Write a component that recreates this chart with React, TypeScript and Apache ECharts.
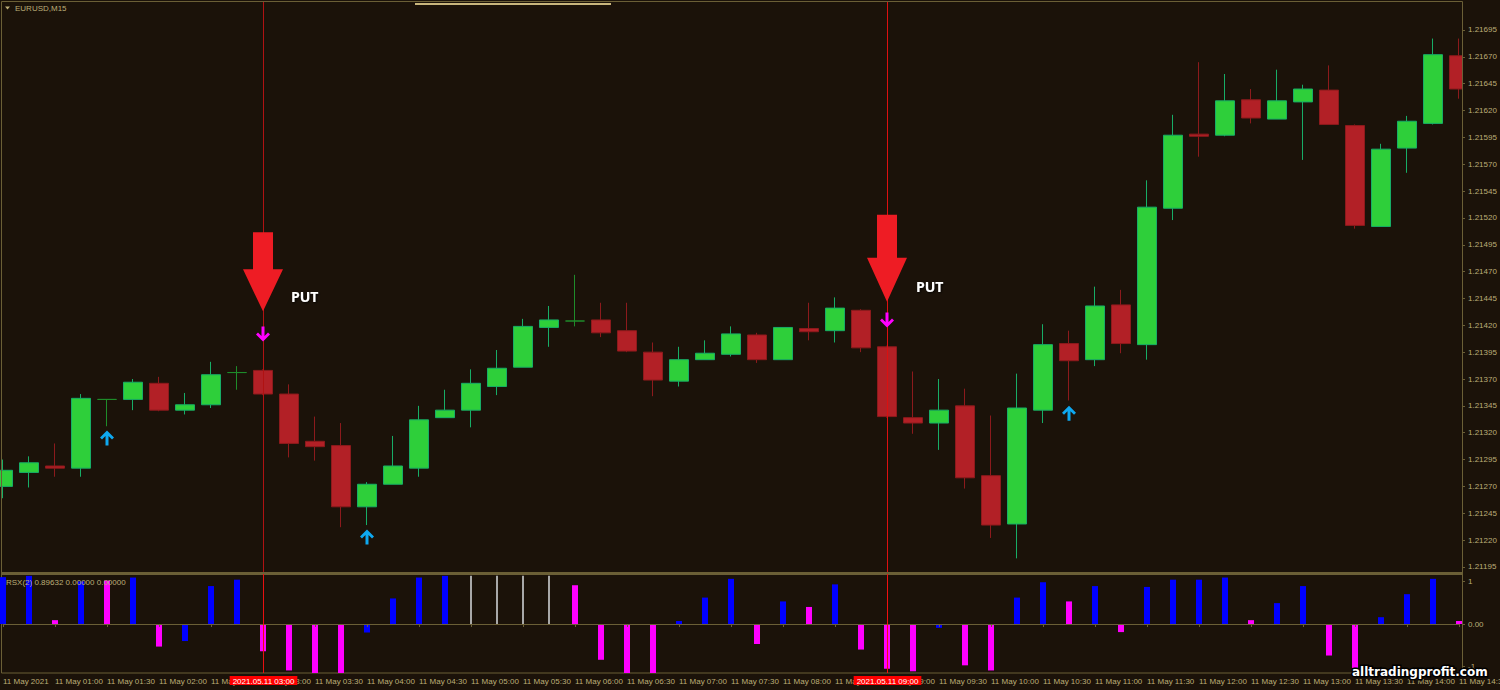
import React, { useEffect, useRef } from "react";
import * as echarts from "echarts";

// ---- data ----
const times = [
  "00:30", "00:45", "01:00", "01:15", "01:30", "01:45", "02:00", "02:15", "02:30", "02:45",
  "03:00", "03:15", "03:30", "03:45", "04:00", "04:15", "04:30", "04:45", "05:00", "05:15",
  "05:30", "05:45", "06:00", "06:15", "06:30", "06:45", "07:00", "07:15", "07:30", "07:45",
  "08:00", "08:15", "08:30", "08:45", "09:00", "09:15", "09:30", "09:45", "10:00", "10:15",
  "10:30", "10:45", "11:00", "11:15", "11:30", "11:45", "12:00", "12:15", "12:30", "12:45",
  "13:00", "13:15", "13:30", "13:45", "14:00", "14:15", "14:30",
];

const opens = [
  1.2127, 1.21283, 1.21289, 1.21287, 1.21351, 1.21351, 1.21366, 1.21341, 1.21346, 1.21376,
  1.21378, 1.21356, 1.21312, 1.21308, 1.21251, 1.21272, 1.21287, 1.21334, 1.21341, 1.21363,
  1.21381, 1.21418, 1.21424, 1.21425, 1.21415, 1.21395, 1.21368, 1.21388, 1.21393, 1.21411,
  1.21388, 1.21417, 1.21415, 1.21434, 1.214, 1.21334, 1.21329, 1.21345, 1.2128, 1.21235,
  1.21341, 1.21403, 1.21388, 1.21439, 1.21402, 1.21529, 1.21598, 1.21597, 1.2163, 1.21612,
  1.21628, 1.21639, 1.21606, 1.21512, 1.21585, 1.21608, 1.21671,
];
const closes = [
  1.21285, 1.21292, 1.21287, 1.21352, 1.21351, 1.21367, 1.21341, 1.21346, 1.21374, 1.21376,
  1.21356, 1.2131, 1.21307, 1.21251, 1.21272, 1.21289, 1.21332, 1.21341, 1.21366, 1.2138,
  1.21419, 1.21425, 1.21424, 1.21413, 1.21396, 1.21369, 1.21388, 1.21394, 1.21412, 1.21388,
  1.21418, 1.21414, 1.21436, 1.21399, 1.21335, 1.21329, 1.21341, 1.21278, 1.21234, 1.21343,
  1.21402, 1.21387, 1.21438, 1.21403, 1.2153, 1.21597, 1.21596, 1.21629, 1.21613, 1.21629,
  1.2164, 1.21607, 1.21513, 1.21584, 1.2161, 1.21672, 1.2164,
];
const highs = [
  1.21295, 1.21298, 1.2131, 1.21356, 1.21351, 1.2137, 1.21372, 1.21357, 1.21386, 1.21382,
  1.21379, 1.21365, 1.21335, 1.21329, 1.21274, 1.21317, 1.21345, 1.2136, 1.21379, 1.21397,
  1.21426, 1.21438, 1.21467, 1.21441, 1.21441, 1.21404, 1.214, 1.21406, 1.21419, 1.21413,
  1.21418, 1.21441, 1.21446, 1.21435, 1.21401, 1.21377, 1.2137, 1.21361, 1.21336, 1.21375,
  1.21421, 1.21415, 1.21456, 1.21453, 1.21555, 1.21616, 1.21665, 1.21654, 1.2164, 1.21658,
  1.21644, 1.21662, 1.21607, 1.21589, 1.21615, 1.21687, 1.21687,
];
const lows = [
  1.21259, 1.21269, 1.21279, 1.21279, 1.21326, 1.21341, 1.2134, 1.21337, 1.21343, 1.2136,
  1.21355, 1.21297, 1.21294, 1.21232, 1.21234, 1.21272, 1.21279, 1.21334, 1.21325, 1.21355,
  1.21381, 1.214, 1.21419, 1.21409, 1.21395, 1.21354, 1.21363, 1.21388, 1.21391, 1.21385,
  1.21388, 1.21406, 1.21404, 1.21395, 1.21334, 1.21319, 1.21304, 1.21268, 1.21222, 1.21203,
  1.21329, 1.2135, 1.21382, 1.21394, 1.21388, 1.21518, 1.21577, 1.21596, 1.21608, 1.21612,
  1.21574, 1.21607, 1.2151, 1.21512, 1.21562, 1.21607, 1.21631,
];

const priceTicks = [
  1.21195, 1.2122, 1.21245, 1.2127, 1.21295, 1.2132, 1.21345, 1.2137, 1.21395, 1.2142,
  1.21445, 1.2147, 1.21495, 1.2152, 1.21545, 1.2157, 1.21595, 1.2162, 1.21645, 1.2167, 1.21695,
];

// RSX histogram: value and colour kind (b = blue, m = magenta, g = grey)
const rsxValues = [
  1.1, 1.13, 0.09, 1.0, 1.02, 1.09, -0.53, -0.4, 0.89, 1.04,
  -0.64, -1.09, -1.15, -1.15, -0.2, 0.6, 1.09, 1.13, 1.13, 1.13,
  1.13, 1.13, 0.91, -0.84, -1.15, -1.15, 0.07, 0.62, 1.06, -0.47,
  0.53, 0.4, 0.93, -0.6, -1.05, -1.11, -0.09, -0.97, -1.09, 0.62,
  0.98, 0.53, 0.89, -0.19, 0.87, 1.04, 1.04, 1.09, 0.09, 0.49,
  0.89, -0.74, -1.03, 0.16, 0.7, 1.06, 0.07,
];
const rsxKind = [
  "b", "b", "m", "b", "m", "b", "m", "b", "b", "b",
  "m", "m", "m", "m", "b", "b", "b", "b", "g", "g",
  "g", "g", "m", "m", "m", "m", "b", "b", "b", "m",
  "b", "m", "b", "m", "m", "m", "b", "m", "m", "b",
  "b", "m", "b", "m", "b", "b", "b", "b", "m", "b",
  "b", "m", "m", "b", "b", "b", "m",
];
const rsxTicks = [-1, 0, 1];

// signals
const putIndex = [10, 34];
const putPrice = [1.21433, 1.21442];
const downIndex = [10, 34];
const downPrice = [1.21412, 1.21425];
const upIndex = [4, 14, 41];
const upPrice = [1.21315, 1.21223, 1.21338];
const vlineIndex = [10, 34];
const vlineLabels = ["2021.05.11 03:00", "2021.05.11 09:00"];

// ---- styles ----
const BG = "#1b1209";
const OLIVE = "#6b5f36";
const TXT = "#bcae78";
const FONT = "'Liberation Sans', Arial, sans-serif";
const KIND_COLOR: Record<string, string> = { b: "#0000ff", m: "#ff00ff", g: "#a8a8a8" };
const KIND_WIDTH: Record<string, number> = { b: 6, m: 6, g: 2 };
const VLINE_MAIN = ["#b01212", "#dc1010"];
const VLINE_SUB = ["#e81010", "#f01010"];

export default function App() {
  const ref = useRef<HTMLDivElement>(null);

  useEffect(() => {
    const chart = echarts.init(ref.current!, null, { renderer: "svg" });

    const candleData = opens.map((o, i) => [o, closes[i], lows[i], highs[i]]);
    const rsxData = rsxValues.map((v, i) => [i, v]);
    const vlineData = vlineIndex.map((idx, k) => [idx, 0, k]);

    const bigArrow1 = "path://M10,0L30,0L30,37L40,37L20,79L0,37L10,37Z";
    const bigArrow2 = "path://M10,0L30,0L30,43L40,43L20,87L0,43L10,43Z";
    const upArrow = "path://M7,0L14,7L12,9L8.5,5.5L8.5,15L5.5,15L5.5,5.5L2,9L0,7Z";
    const downArrow = "path://M5.5,0L8.5,0L8.5,9.5L12,6L14,8L7,15L0,8L2,6L5.5,9.5Z";

    const option: any = {
      animation: false,
      backgroundColor: BG,
      textStyle: { fontFamily: FONT },
      grid: [
        { left: 3, right: 41, top: 3, height: 569, outerBoundsMode: "none", containLabel: false },
        { left: 3, right: 41, top: 575, height: 98, outerBoundsMode: "none", containLabel: false },
      ],
      xAxis: [
        {
          type: "category",
          gridIndex: 0,
          data: times,
          boundaryGap: false,
          axisLine: { show: false },
          axisTick: { show: false },
          axisLabel: { show: false },
          splitLine: { show: false },
        },
        {
          type: "category",
          gridIndex: 1,
          data: times,
          boundaryGap: false,
          z: 20,
          axisLine: { show: true, lineStyle: { color: OLIVE, width: 1 } },
          axisTick: { show: true, interval: 1, length: 3, lineStyle: { color: OLIVE } },
          axisLabel: {
            interval: 1,
            align: "left",
            margin: 4,
            color: TXT,
            fontSize: 8,
            fontFamily: FONT,
            hideOverlap: false,
            formatter: (v: string, i: number) => (i === 0 ? "11 May 2021" : "11 May " + v),
          },
          splitLine: { show: false },
        },
      ],
      yAxis: [
        {
          type: "value",
          gridIndex: 0,
          position: "right",
          offset: 3,
          z: 20,
          min: 1.211903,
          max: 1.217201,
          axisLine: { show: true, lineStyle: { color: OLIVE, width: 1 } },
          axisTick: { show: true, length: 3, customValues: priceTicks, lineStyle: { color: OLIVE } },
          axisLabel: {
            customValues: priceTicks,
            margin: 6,
            color: TXT,
            fontSize: 8,
            fontFamily: FONT,
            formatter: (v: number) => v.toFixed(5),
          },
          splitLine: { show: false },
        },
        {
          type: "value",
          gridIndex: 1,
          position: "right",
          offset: 3,
          z: 20,
          min: -1.15,
          max: 1.15,
          axisLine: { show: true, lineStyle: { color: OLIVE, width: 1 } },
          axisTick: { show: true, length: 3, customValues: rsxTicks, lineStyle: { color: OLIVE } },
          axisLabel: {
            customValues: rsxTicks,
            margin: 6,
            color: TXT,
            fontSize: 8,
            fontFamily: FONT,
            formatter: (v: number) => (v === 0 ? "0.00" : String(v)),
          },
          splitLine: { show: false },
        },
      ],
      series: [
        {
          type: "candlestick",
          xAxisIndex: 0,
          yAxisIndex: 0,
          barWidth: 20,
          data: candleData,
          itemStyle: {
            color: "#2ecf3a",
            color0: "#b22026",
            borderColor: "#17ad66",
            borderColor0: "#8c1a1c",
            borderColorDoji: "#1f8c2a",
            borderWidth: 1,
          },
          z: 2,
        },
        {
          // vertical lines, main panel
          type: "custom",
          xAxisIndex: 0,
          yAxisIndex: 0,
          data: vlineData,
          encode: { x: 0 },
          clip: false,
          silent: true,
          renderItem: (params: any, api: any) => {
            const cs = params.coordSys;
            const x = Math.round(api.coord([api.value(0), 1.214])[0]) + 0.5;
            const k = api.value(2);
            return {
              type: "line",
              shape: { x1: x, y1: cs.y - 2, x2: x, y2: cs.y + cs.height + 3 },
              style: { stroke: VLINE_MAIN[k], lineWidth: 1 },
            };
          },
          z: 3,
        },
        {
          type: "scatter",
          xAxisIndex: 0,
          yAxisIndex: 0,
          data: putIndex.map((idx, k) => ({
            value: [idx, putPrice[k]],
            symbol: k === 0 ? bigArrow1 : bigArrow2,
            symbolSize: k === 0 ? [40, 79] : [40, 87],
            label: {
              show: true,
              position: "right",
              formatter: "PUT",
              offset: k === 0 ? [3, 25] : [4, 28],
            },
          })),
          symbolOffset: [0, "-50%"],
          itemStyle: { color: "#ee1c24", opacity: 1 },
          label: {
            color: "#ffffff",
            fontSize: 14,
            fontWeight: "bold",
            fontFamily: "'Open Sans', 'DejaVu Sans', sans-serif",
            textShadowColor: "rgba(0,0,0,0.8)",
            textShadowBlur: 2,
            textShadowOffsetX: 1,
            textShadowOffsetY: 1,
          },
          z: 5,
        },
        {
          type: "scatter",
          xAxisIndex: 0,
          yAxisIndex: 0,
          symbol: downArrow,
          symbolSize: [14, 15],
          itemStyle: { color: "#ff00ff", opacity: 1 },
          data: downIndex.map((idx, k) => [idx, downPrice[k]]),
          z: 5,
        },
        {
          type: "scatter",
          xAxisIndex: 0,
          yAxisIndex: 0,
          symbol: upArrow,
          symbolSize: [14, 15],
          itemStyle: { color: "#0ea8f0", opacity: 1 },
          data: upIndex.map((idx, k) => [idx, upPrice[k]]),
          z: 5,
        },
        {
          type: "custom",
          xAxisIndex: 1,
          yAxisIndex: 1,
          data: rsxData,
          encode: { x: 0, y: 1 },
          renderItem: (params: any, api: any) => {
            const i = api.value(0);
            const v = api.value(1);
            const kind = rsxKind[params.dataIndex];
            const p0 = api.coord([i, 0]);
            const p1 = api.coord([i, v]);
            const w = KIND_WIDTH[kind];
            return {
              type: "rect",
              shape: {
                x: p0[0] - w / 2,
                y: Math.min(p0[1], p1[1]),
                width: w,
                height: Math.abs(p1[1] - p0[1]),
              },
              style: { fill: KIND_COLOR[kind] },
            };
          },
          z: 3,
        },
        {
          // vertical lines + time labels, RSX panel
          type: "custom",
          xAxisIndex: 1,
          yAxisIndex: 1,
          data: vlineData,
          encode: { x: 0 },
          clip: false,
          silent: true,
          renderItem: (params: any, api: any) => {
            const cs = params.coordSys;
            const x = Math.round(api.coord([api.value(0), 0])[0]) + 0.5;
            const k = api.value(2);
            const bottom = cs.y + cs.height;
            return {
              type: "group",
              children: [
                {
                  type: "line",
                  shape: { x1: x, y1: cs.y - 1, x2: x, y2: bottom },
                  style: { stroke: VLINE_SUB[k], lineWidth: 1 },
                },
                {
                  type: "text",
                  x: x,
                  y: bottom + 3,
                  style: {
                    text: vlineLabels[k],
                    fill: "#ffffff",
                    backgroundColor: "#ff0000",
                    padding: [1, 3, 0, 3],
                    font: `8px ${FONT}`,
                    align: "center",
                    verticalAlign: "top",
                  },
                },
              ],
            };
          },
          z: 30,
        },
      ],
      graphic: [
        {
          // hides the part of the last candle that runs past the price axis
          type: "rect",
          shape: { x: 1463, y: 3, width: 8, height: 569 },
          style: { fill: BG },
          silent: true,
          z: 15,
        },
        {
          type: "rect",
          shape: { x: 1.5, y: 1.5, width: 1461, height: 571 },
          style: { fill: "none", stroke: OLIVE, lineWidth: 1 },
          silent: true,
          z: 16,
        },
        {
          type: "rect",
          shape: { x: 1, y: 572, width: 1462, height: 3 },
          style: { fill: OLIVE },
          silent: true,
          z: 16,
        },
        {
          type: "rect",
          shape: { x: 1.5, y: 574.5, width: 1461, height: 98.5 },
          style: { fill: "none", stroke: OLIVE, lineWidth: 1 },
          silent: true,
          z: 1,
        },
        {
          type: "rect",
          shape: { x: 415, y: 3, width: 196, height: 2 },
          style: { fill: "#c9b67c" },
          silent: true,
          z: 16,
        },
        {
          type: "polygon",
          shape: { points: [[5, 6.5], [10, 6.5], [7.5, 9.5]] },
          style: { fill: TXT },
          silent: true,
          z: 16,
        },
        {
          type: "text",
          x: 15,
          y: 8,
          style: {
            text: "EURUSD,M15",
            fill: TXT,
            font: `8px ${FONT}`,
            verticalAlign: "middle",
          },
          silent: true,
          z: 16,
        },
        {
          type: "text",
          x: 6,
          y: 582,
          style: {
            text: "RSX(2) 0.89632 0.00000 0.00000",
            fill: TXT,
            font: `8px ${FONT}`,
            verticalAlign: "middle",
          },
          silent: true,
          z: 16,
        },
        {
          type: "text",
          x: 1352,
          y: 672,
          style: {
            text: "alltradingprofit.com",
            fill: "#ffffff",
            stroke: "#000000",
            lineWidth: 3,
            font: `bold 12px 'DejaVu Sans', sans-serif`,
            verticalAlign: "middle",
          },
          silent: true,
          z: 40,
        },
      ],
    };

    chart.setOption(option);
    return () => chart.dispose();
  }, []);

  return (
    <div
      ref={ref}
      style={{ position: "fixed", left: 0, top: 0, width: 1500, height: 690 }}
    />
  );
}
